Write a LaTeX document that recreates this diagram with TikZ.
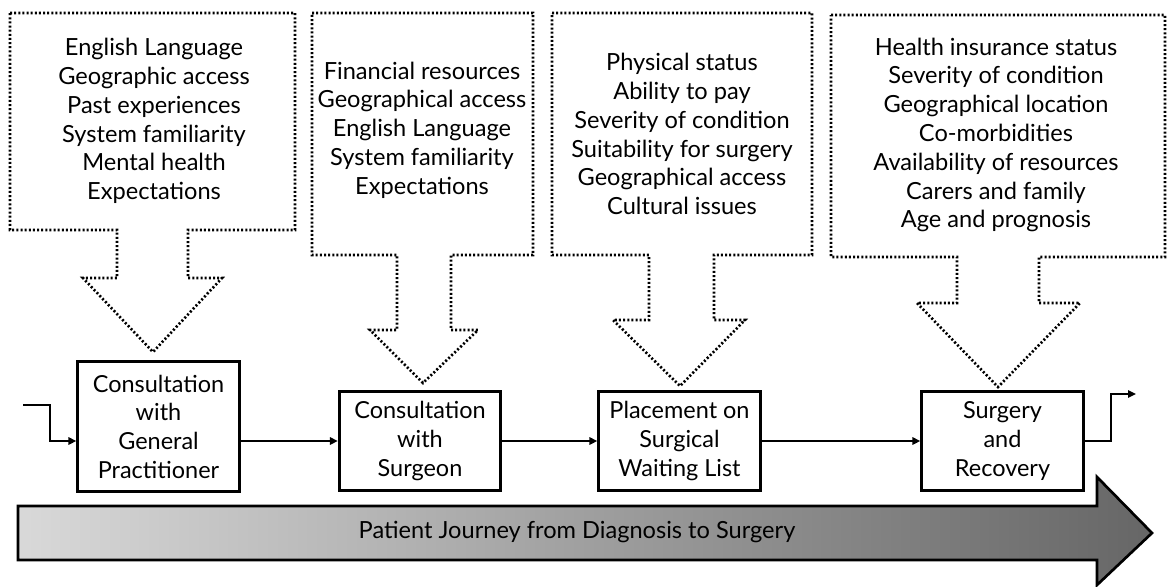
\documentclass[tikz,border=0pt]{standalone}
\usepackage{fontspec}
\setmainfont{Lato}
\usetikzlibrary{arrows.meta,positioning}
\tikzset{
  pstep/.style={
    draw=black,
    fill=white,
    line width=2.2pt,
    align=center,
    inner sep=0pt,
    minimum width=121pt,
    minimum height=74pt,
    font=\fontsize{17.6}{21.5}\selectfont
  },
  plist/.style={align=center,inner sep=0pt,font=\fontsize{17.7}{21.6}\selectfont},
  pfactor/.style={draw=black,line width=2pt,dash pattern=on 1.5pt off 1.6pt,line join=miter},
  pflow/.style={-{Triangle[length=6pt,width=5.5pt]},draw=black,line width=1.7pt},
  pjourney/.style={draw=black,line width=2pt,line join=miter,left color=black!15,right color=black!60}
}

\begin{document}
\begin{tikzpicture}[x=0.75pt,y=-0.75pt]
  \useasboundingbox (0,0) rectangle (1168,586);

  % dotted callouts with the factors at each step
  \foreach \l/\t/\r/\b/\sl/\sr/\sb/\wl/\wr/\tx/\ty in {
      10/13/295/230/117/188/278/83/222/153/352,
      312/13/533/255/397/451/330/370/478/423/383,
      552/13/812/255/649/714/320/613/745/680/386,
      831/15/1165/257/957/1039/303/917/1080/998/387}
    \draw[pfactor] (\l,\t) -- (\r,\t) -- (\r,\b) -- (\sr,\b) -- (\sr,\sb) -- (\wr,\sb)
      -- (\tx,\ty) -- (\wl,\sb) -- (\sl,\sb) -- (\sl,\b) -- (\l,\b) -- cycle;

  \node[plist] (gpfactors) at (154,121) {English Language\\Geographic access\\Past experiences\\System familiarity\\Mental health\\Expectations};
  \node[plist] (surgeonfactors) at (422,130) {Financial resources\\Geographical access\\English Language\\System familiarity\\Expectations};
  \node[plist] (listfactors) at (682,134) {Physical status\\Ability to pay\\Severity of condition\\Suitability for surgery\\Geographical access\\Cultural issues};
  \node[plist] (surgeryfactors) at (996,135) {Health insurance status\\Severity of condition\\Geographical location\\Co-morbidities\\Availability of resources\\Carers and family\\Age and prognosis};

  % steps of the journey
  \node[pstep,minimum height=97pt] (gp) at (158.5,426.5) {Consultation\\with\\General\\Practitioner};
  \node[pstep] (surgeon) at (420,441) {Consultation\\with\\Surgeon};
  \node[pstep] (waiting) at (679.5,441) {Placement on\\Surgical\\Waiting List};
  \node[pstep] (recovery) at (1002.5,441) {Surgery\\and\\Recovery};

  \coordinate (entry) at (23,405);
  \coordinate (exit) at (1136,394);
  \draw[pflow] (entry) -- ++(27,0) |- (gp.west |- surgeon.west);
  \draw[pflow] (gp.east |- surgeon.west) -- (surgeon.west);
  \draw[pflow] (surgeon) -- (waiting);
  \draw[pflow] (waiting) -- (recovery);
  \draw[pflow] (recovery.east) -- ++(26,0) |- (exit);

  % big shaded arrow underneath
  \draw[pjourney] (18,506) -- (1097,506) -- (1097,477) -- (1152,533) -- (1097,585)
    -- (1097,560) -- (18,560) -- cycle;
  \node[plist] (journey) at (577,532) {Patient Journey from Diagnosis to Surgery};
\end{tikzpicture}
\end{document}
